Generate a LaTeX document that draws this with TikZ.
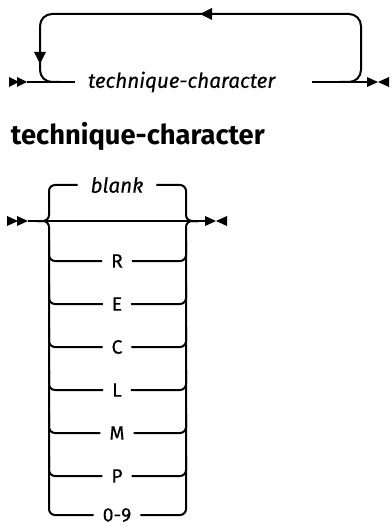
\documentclass[tikz,border=0pt]{standalone}
\usepackage{fontspec}
\setmainfont{Fira Sans}
\newfontfamily\medfont{Fira Sans}[FakeBold=0.35]
\usetikzlibrary{calc}
\begin{document}
\begin{tikzpicture}[x=0.75pt,y=-0.75pt,
  line width=1.5pt,
  rail/.style={draw, line width=1.5pt, rounded corners=4.5pt},
  loop/.style={draw, line width=1.5pt, rounded corners=9pt},
  lbl/.style={inner xsep=6pt, inner ysep=0pt, font=\medfont\fontsize{14.5}{16}\selectfont},
  ilbl/.style={lbl, font=\medfont\fontsize{15.5}{17}\selectfont\itshape},
  tip/.style={fill=black, draw=none}]
\useasboundingbox (0,0) rectangle (390,527);

% ---------- top diagram ----------
\coordinate (a0) at (27,82);
\coordinate (a1) at (75,82);
\node[ilbl, anchor=west, inner xsep=0pt] (tc) at (87,82) {technique-character};
\coordinate (a2) at (312,82);
\coordinate (a3) at (368,82);
\fill[tip] (9,77) -- (19,82) -- (9,87) -- cycle;
\fill[tip] (17,77) -- (27,82) -- (17,87) -- cycle;
\draw (a0) -- (a1);
\draw (a2) -- (a3);
\fill[tip] (367,77) -- (378,82) -- (367,87) -- cycle;
\fill[tip] (389,77) -- (378,82) -- (389,87) -- cycle;
\path[loop] (340,82) -| (361,14) -| (40,82) -- (60,82);
\fill[tip] (200,14) -- (212,8) -- (212,20) -- cycle;
\fill[tip] (40,64) -- (34,52) -- (46,52) -- cycle;

% ---------- title ----------
\node[anchor=base west, inner sep=0pt, font=\fontsize{20.5}{24}\selectfont\bfseries] (title) at (10,145) {technique-character};

% ---------- second diagram ----------
\coordinate (b0) at (28,221);
\coordinate (b1) at (205,221);
\fill[tip] (7,216) -- (18,221) -- (7,226) -- cycle;
\fill[tip] (17,216) -- (28,221) -- (17,226) -- cycle;
\draw (b0) -- (b1);
\fill[tip] (205,216) -- (216,221) -- (205,226) -- cycle;
\fill[tip] (227,216) -- (216,221) -- (227,226) -- cycle;

\node[ilbl, inner xsep=9pt] (blank) at (117,185) {blank};
\path[rail] (37,221) -| (49,185) -- (blank.west);
\path[rail] (blank.east) -| (186,221) -- (198,221);

\node[lbl] (r) at (117,261) {R};
\node[lbl] (e) at (117,304) {E};
\node[lbl] (c) at (117,347) {C};
\node[lbl] (l) at (117,390) {L};
\node[lbl] (m) at (117,433) {M};
\node[lbl] (p) at (117,476) {P};
\node[lbl] (d) at (117,515) {0-9};

\path[rail] (37,221) -| (49,515) -- (d.west);
\path[rail] (d.east) -| (186,221) -- (198,221);
\foreach \n/\y in {r/261,e/304,c/347,l/390,m/433,p/476}{
  \path[rail] (49,\y-20) |- (\n.west);
  \path[rail] (\n.east) -| (186,\y-20);
}
\end{tikzpicture}
\end{document}
